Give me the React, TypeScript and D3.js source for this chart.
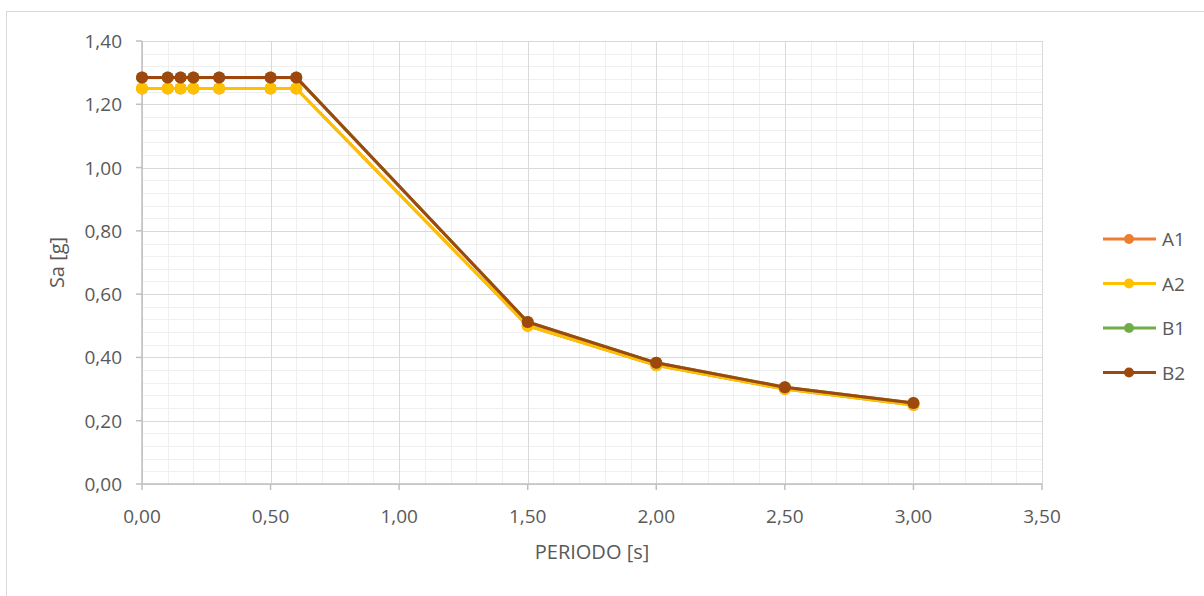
import React from 'react';
import * as d3 from 'd3';

const periods = [0, 0.1, 0.15, 0.2, 0.3, 0.5, 0.6, 1.5, 2.0, 2.5, 3.0];
const seriesNames = ['A1', 'A2', 'B1', 'B2'];
const seriesColors = ['#ED7D31', '#FFC000', '#70AD47', '#9E480E'];
const valuesA1 = [1.25, 1.25, 1.25, 1.25, 1.25, 1.25, 1.25, 0.50, 0.375, 0.30, 0.25];
const valuesA2 = [1.25, 1.25, 1.25, 1.25, 1.25, 1.25, 1.25, 0.50, 0.375, 0.30, 0.25];
const valuesB1 = [1.285, 1.285, 1.285, 1.285, 1.285, 1.285, 1.285, 0.512, 0.383, 0.306, 0.256];
const valuesB2 = [1.285, 1.285, 1.285, 1.285, 1.285, 1.285, 1.285, 0.512, 0.383, 0.306, 0.256];
const allValues = [valuesA1, valuesA2, valuesB1, valuesB2];

const xTicks = [0, 0.5, 1, 1.5, 2, 2.5, 3, 3.5];
const yTicks = [0, 0.2, 0.4, 0.6, 0.8, 1.0, 1.2, 1.4];

const fmt = (v: number) => v.toFixed(2).replace('.', ',');

const App = () => {
  const width = 1204;
  const height = 596;
  const left = 142, right = 1042, top = 41, bottom = 484;

  const x = d3.scaleLinear().domain([0, 3.5]).range([left, right]);
  const y = d3.scaleLinear().domain([0, 1.4]).range([bottom, top]);

  const minorX = d3.range(0, 3.5001, 0.1);
  const minorY = d3.range(0, 1.4001, 0.04);

  const line = d3.line<number>()
    .x((_d, i) => x(periods[i]))
    .y(d => y(d));

  const font = '"Open Sans", sans-serif';
  const grey = '#595959';

  return (
    <svg width={width} height={height}
      style={{ position: 'absolute', left: 0, top: 0, background: 'white' }}>
      <rect x={6.5} y={11.5} width={1250} height={700} fill="white" stroke="#d9d9d9" />

      {/* minor grid */}
      <g stroke="#efefef" strokeWidth={1}>
        {minorX.map((v, i) => (
          <line key={'mx' + i} x1={Math.round(x(v)) + 0.5} x2={Math.round(x(v)) + 0.5} y1={top} y2={bottom} />
        ))}
        {minorY.map((v, i) => (
          <line key={'my' + i} x1={left} x2={right} y1={Math.round(y(v)) + 0.5} y2={Math.round(y(v)) + 0.5} />
        ))}
      </g>
      {/* major grid */}
      <g stroke="#d9d9d9" strokeWidth={1}>
        {xTicks.map((v, i) => (
          <line key={'gx' + i} x1={Math.round(x(v)) + 0.5} x2={Math.round(x(v)) + 0.5} y1={top} y2={bottom} />
        ))}
        {yTicks.map((v, i) => (
          <line key={'gy' + i} x1={left} x2={right} y1={Math.round(y(v)) + 0.5} y2={Math.round(y(v)) + 0.5} />
        ))}
      </g>

      {/* axes */}
      <g stroke="#bfbfbf" strokeWidth={1.5}>
        <line x1={left} x2={left} y1={top} y2={bottom} />
        <line x1={left} x2={right} y1={bottom} y2={bottom} />
        {yTicks.map((v, i) => (
          <line key={'ty' + i} x1={left - 6} x2={left} y1={y(v)} y2={y(v)} />
        ))}
        {xTicks.map((v, i) => (
          <line key={'tx' + i} x1={x(v)} x2={x(v)} y1={bottom} y2={bottom + 6} />
        ))}
      </g>

      <g fill={grey} fontFamily={font} fontSize={19}>
        {yTicks.map((v, i) => (
          <text key={'ly' + i} x={122} y={y(v)} textAnchor="end" dominantBaseline="central">{fmt(v)}</text>
        ))}
        {xTicks.map((v, i) => (
          <text key={'lx' + i} x={x(v)} y={bottom + 39} textAnchor="middle">{fmt(v)}</text>
        ))}
        <text x={(left + right) / 2} y={559} textAnchor="middle" fontSize={20}>PERIODO [s]</text>
        <text transform={`translate(64,${(top + bottom) / 2}) rotate(-90)`} textAnchor="middle" fontSize={20}>Sa [g]</text>
      </g>

      {/* series */}
      {allValues.map((vals, s) => (
        <g key={'s' + s}>
          <path d={line(vals) || ''} fill="none" stroke={seriesColors[s]} strokeWidth={3} strokeLinejoin="round" />
          {vals.map((v, i) => (
            <circle key={i} cx={x(periods[i])} cy={y(v)} r={6} fill={seriesColors[s]} />
          ))}
        </g>
      ))}

      {/* legend */}
      {seriesNames.map((name, i) => {
        const ly = 239 + i * 44.5;
        return (
          <g key={'lg' + i}>
            <line x1={1103} x2={1156} y1={ly} y2={ly} stroke={seriesColors[i]} strokeWidth={3} />
            <circle cx={1129} cy={ly} r={5} fill={seriesColors[i]} />
            <text x={1162} y={ly} dominantBaseline="central" fill={grey} fontFamily={font} fontSize={19}>{name}</text>
          </g>
        );
      })}
    </svg>
  );
};

export default App;
